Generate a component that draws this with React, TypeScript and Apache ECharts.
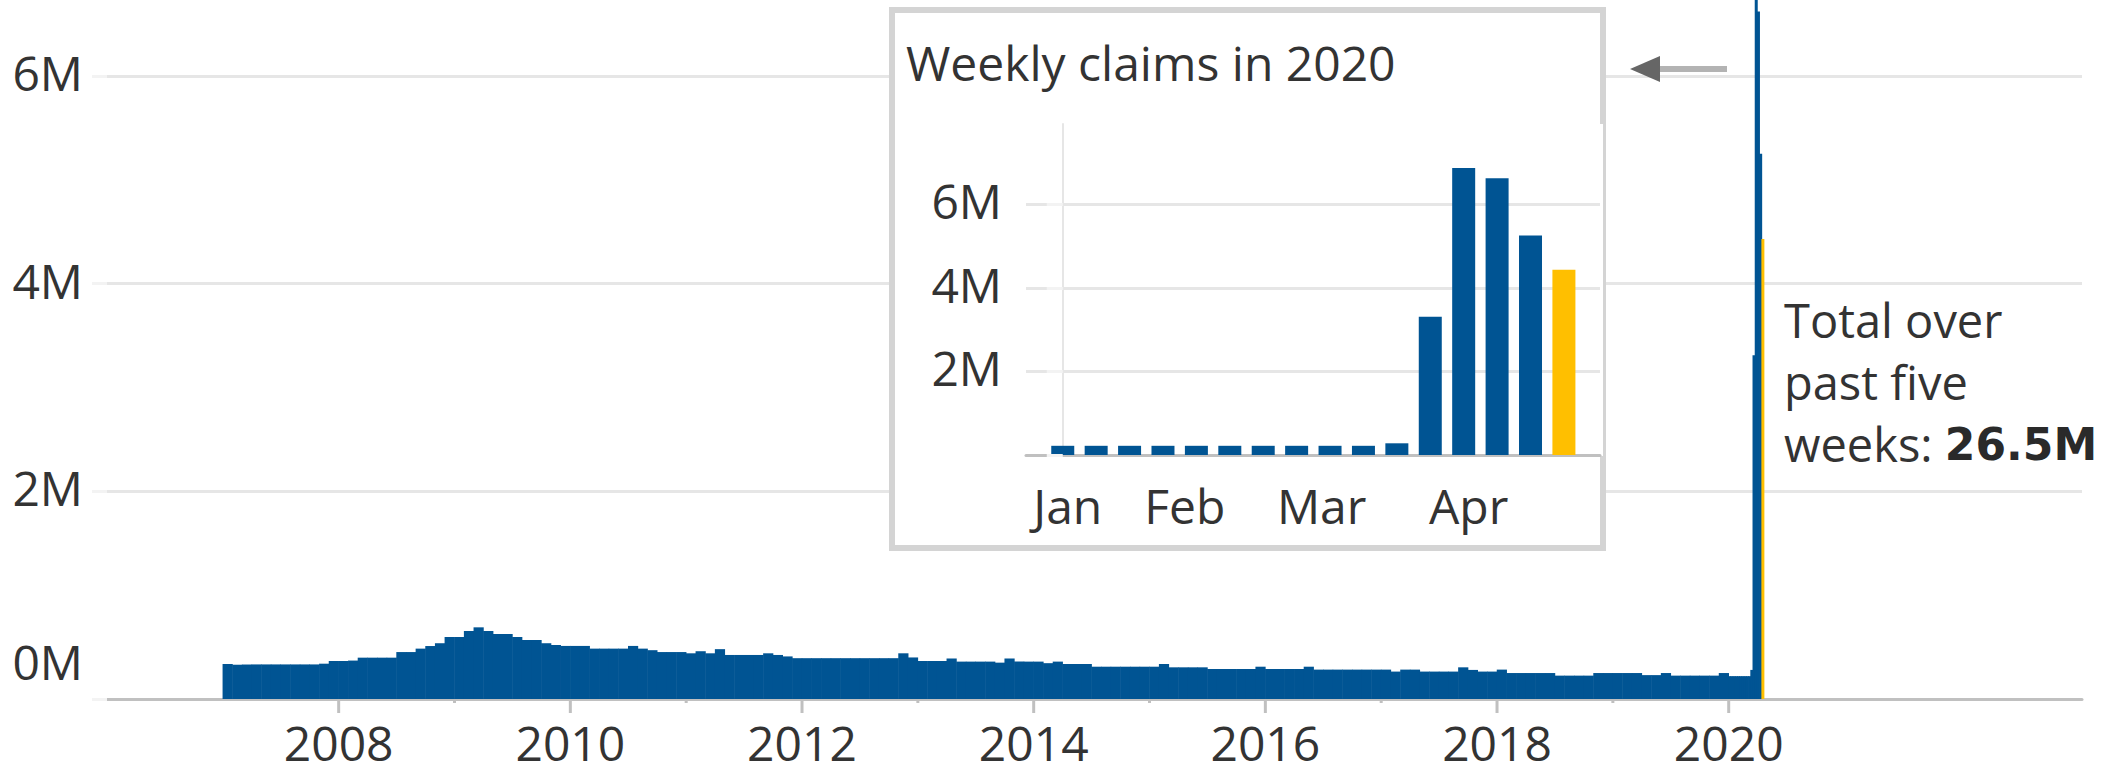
import React, { useEffect, useRef } from "react";
import * as echarts from "echarts";

const BLUE = "#005493";
const GOLD = "#ffbf00";
const TEXT = "#333333";
const FONT = "'Open Sans', sans-serif";
const BOLD_FONT = "'DejaVu Sans', sans-serif";

// Monthly average weekly initial claims (millions), Jan..Dec
const claimYears = [2007, 2008, 2009, 2010, 2011, 2012, 2013, 2014, 2015, 2016, 2017, 2018, 2019];
const m2007 = [0.337, 0.33, 0.332, 0.333, 0.333, 0.333, 0.333, 0.333, 0.333, 0.333, 0.34, 0.366];
const m2008 = [0.366, 0.37, 0.398, 0.398, 0.398, 0.398, 0.452, 0.452, 0.485, 0.51, 0.537, 0.597];
const m2009 = [0.597, 0.655, 0.69, 0.655, 0.626, 0.626, 0.597, 0.568, 0.568, 0.537, 0.52, 0.511];
const m2010 = [0.511, 0.511, 0.485, 0.485, 0.485, 0.485, 0.511, 0.485, 0.47, 0.452, 0.452, 0.452];
const m2011 = [0.44, 0.46, 0.44, 0.48, 0.424, 0.424, 0.424, 0.424, 0.44, 0.424, 0.41, 0.393];
const m2012 = [0.393, 0.393, 0.393, 0.393, 0.393, 0.393, 0.393, 0.393, 0.393, 0.393, 0.44, 0.4];
const m2013 = [0.366, 0.366, 0.366, 0.39, 0.36, 0.36, 0.36, 0.36, 0.35, 0.39, 0.36, 0.36];
const m2014 = [0.36, 0.345, 0.36, 0.337, 0.337, 0.337, 0.311, 0.311, 0.311, 0.311, 0.311, 0.311];
const m2015 = [0.311, 0.337, 0.305, 0.305, 0.305, 0.305, 0.289, 0.289, 0.289, 0.289, 0.289, 0.311];
const m2016 = [0.289, 0.289, 0.289, 0.289, 0.311, 0.283, 0.283, 0.283, 0.283, 0.283, 0.283, 0.283];
const m2017 = [0.283, 0.264, 0.283, 0.283, 0.264, 0.264, 0.264, 0.264, 0.305, 0.28, 0.264, 0.264];
const m2018 = [0.283, 0.25, 0.25, 0.25, 0.25, 0.25, 0.225, 0.225, 0.225, 0.225, 0.25, 0.25];
const m2019 = [0.25, 0.25, 0.25, 0.23, 0.23, 0.25, 0.225, 0.225, 0.225, 0.225, 0.225, 0.25];
const monthlyByYear = [m2007, m2008, m2009, m2010, m2011, m2012, m2013, m2014, m2015, m2016, m2017, m2018, m2019];

// Weekly claims in 2020 (millions), week ending
const weeks2020 = [
  "2020-01-04", "2020-01-11", "2020-01-18", "2020-01-25", "2020-02-01", "2020-02-08",
  "2020-02-15", "2020-02-22", "2020-02-29", "2020-03-07", "2020-03-14", "2020-03-21",
  "2020-03-28", "2020-04-04", "2020-04-11", "2020-04-18",
];
const claims2020 = [0.22, 0.22, 0.22, 0.22, 0.22, 0.22, 0.22, 0.22, 0.22, 0.22, 0.28, 3.31, 6.87, 6.62, 5.25, 4.43];

// Axis ticks / labels
const yearTicks = [2008, 2009, 2010, 2011, 2012, 2013, 2014, 2015, 2016, 2017, 2018, 2019, 2020];
const monthLabels = ["Jan", "Feb", "Mar", "Apr"];
const monthLabelWeekPos = [0.15, 3.65, 7.75, 12.15];

function yearFraction(dateStr: string): number {
  const d = new Date(dateStr + "T00:00:00Z");
  const y = d.getUTCFullYear();
  const start = Date.UTC(y, 0, 1);
  const end = Date.UTC(y + 1, 0, 1);
  return y + (d.getTime() - start) / (end - start);
}

export default function App() {
  const ref = useRef<HTMLDivElement>(null);

  useEffect(() => {
    if (!ref.current) return;
    const chart = echarts.init(ref.current, undefined, { renderer: "svg" });

    const monthlyPoints: number[][] = [];
    claimYears.forEach((yr, yi) => {
      monthlyByYear[yi].forEach((v, m) => {
        monthlyPoints.push([yr + (m + 0.5) / 12, v * 1e6]);
      });
    });

    const last = claims2020.length - 1;
    const weeklyMain = weeks2020.map((w, i) => ({
      value: [yearFraction(w), claims2020[i] * 1e6],
      itemStyle: { color: i === last ? GOLD : BLUE },
    }));
    const insetBars = claims2020.map((v, i) => ({
      value: [i, v * 1e6],
      itemStyle: { color: i === last ? GOLD : BLUE },
    }));

    const yRich = {
      z: { fontSize: 48, fontFamily: FONT, color: TEXT, padding: [0, 0, 76, 0] },
      n: { fontSize: 48, fontFamily: FONT, color: TEXT, padding: [0, 0, 7, 0] },
    };
    const yFormatter = (v: number) => {
      if (Math.abs(v % 2e6) > 1) return "";
      const t = `${Math.round(v / 1e6)}M`;
      return v === 0 ? `{z|${t}}` : `{n|${t}}`;
    };
    const insetFormatter = (v: number) => {
      if (v === 0 || Math.abs(v % 2e6) > 1) return "";
      return `{n|${Math.round(v / 1e6)}M}`;
    };

    const option: any = {
      animation: false,
      backgroundColor: "#ffffff",
      textStyle: { fontFamily: FONT },
      grid: [
        { left: 107, right: 33, top: 0, bottom: 74, show: false },
        { left: 1026, top: 124, width: 574, height: 331, show: false, z: 10 },
      ],
      xAxis: [
        {
          type: "value",
          gridIndex: 0,
          min: 2006,
          max: 2023.05,
          interval: 1,
          axisLine: { show: true, onZero: false, lineStyle: { color: "#c0c0c0", width: 3 } },
          axisTick: { show: false },
          splitLine: { show: false },
          axisLabel: {
            margin: 19,
            fontSize: 48,
            lineHeight: 48,
            fontFamily: FONT,
            color: TEXT,
            showMaxLabel: false,
            formatter: (v: number) =>
              v >= 2008 && v <= 2020 && Math.round(v) === v && v % 2 === 0 ? String(v) : "",
          },
        },
        { type: "value", gridIndex: 0, min: 2006, max: 2023.05, show: false },
        {
          type: "value",
          gridIndex: 1,
          min: -1.1,
          max: 16.08,
          z: 10,
          axisLine: { show: true, onZero: false, lineStyle: { color: "#c0c0c0", width: 3 } },
          axisTick: { show: false },
          axisLabel: { show: false },
          splitLine: { show: false },
        },
      ],
      yAxis: [
        {
          type: "value",
          gridIndex: 0,
          min: 0,
          max: 6.73e6,
          interval: 2e6,
          axisLine: { show: false },
          axisTick: { show: true, length: 15, lineStyle: { color: "#f3f3f3", width: 3 } },
          splitLine: { show: true, showMaxLine: false, lineStyle: { color: "#e6e6e6", width: 3 } },
          axisLabel: { margin: 24, showMaxLabel: false, formatter: yFormatter, rich: yRich },
        },
        {
          type: "value",
          gridIndex: 1,
          min: 0,
          max: 7.92e6,
          interval: 2e6,
          z: 10,
          axisLine: { show: true, lineStyle: { color: "#e6e6e6", width: 2 } },
          axisTick: { show: true, length: 16, lineStyle: { color: "#f3f3f3", width: 3 } },
          splitLine: { show: true, showMaxLine: false, lineStyle: { color: "#e6e6e6", width: 3 } },
          axisLabel: { margin: 24, showMaxLabel: false, formatter: insetFormatter, rich: yRich },
        },
      ],
      series: [
        {
          type: "bar",
          xAxisIndex: 0,
          yAxisIndex: 0,
          barWidth: 10.2,
          itemStyle: { color: BLUE },
          data: monthlyPoints,
          z: 2,
        },
        {
          type: "bar",
          xAxisIndex: 1,
          yAxisIndex: 0,
          barWidth: 3,
          data: weeklyMain,
          z: 2,
        },
        {
          type: "custom",
          xAxisIndex: 0,
          yAxisIndex: 0,
          silent: true,
          z: 3,
          data: yearTicks.map((y) => [y, 0]),
          renderItem: (params: any, api: any) => {
            const yr = api.value(0);
            const p = api.coord([yr, 0]);
            const len = yr % 2 === 0 ? 14 : 4;
            return {
              type: "line",
              shape: { x1: p[0], y1: p[1], x2: p[0], y2: p[1] + len },
              style: { stroke: "#c0c0c0", lineWidth: 3 },
            };
          },
        },
        {
          type: "bar",
          xAxisIndex: 2,
          yAxisIndex: 1,
          barWidth: 23,
          data: insetBars,
          z: 10,
        },
        {
          type: "custom",
          xAxisIndex: 2,
          yAxisIndex: 1,
          silent: true,
          z: 10,
          data: monthLabelWeekPos.map((p) => [p, 0]),
          renderItem: (params: any, api: any) => {
            const p = api.coord([api.value(0), 0]);
            return {
              type: "text",
              x: p[0],
              y: p[1] + 50,
              style: {
                text: monthLabels[params.dataIndex],
                fill: TEXT,
                fontSize: 48,
                fontFamily: FONT,
                align: "center",
                verticalAlign: "middle",
              },
            };
          },
        },
      ],
      graphic: {
        elements: [
          {
            type: "rect",
            z: 3,
            silent: true,
            shape: { x: 892, y: 10, width: 711, height: 538 },
            style: { fill: "#ffffff", stroke: "#d4d4d4", lineWidth: 6 },
          },
          {
            type: "rect",
            z: 4,
            silent: true,
            shape: { x: 1010, y: 124, width: 593, height: 332 },
            style: { fill: "#ffffff" },
          },
          {
            type: "text",
            z: 11,
            x: 906,
            y: 62,
            style: {
              text: "Weekly claims in 2020",
              fill: TEXT,
              fontSize: 48,
              fontFamily: FONT,
              verticalAlign: "middle",
            },
          },
          {
            type: "rect",
            z: 3,
            silent: true,
            shape: { x: 1659, y: 66, width: 68, height: 6 },
            style: { fill: "#b3b3b3" },
          },
          {
            type: "polygon",
            z: 3,
            silent: true,
            shape: { points: [[1630, 69], [1660, 56], [1660, 82]] },
            style: { fill: "#666666" },
          },
          {
            type: "text",
            z: 11,
            x: 1784,
            y: 289,
            style: {
              text: "Total over\npast five\nweeks: {b|26.5M}",
              fill: TEXT,
              fontSize: 47,
              fontFamily: FONT,
              lineHeight: 62,
              verticalAlign: "top",
              rich: {
                b: { fontSize: 44, fontFamily: BOLD_FONT, fontWeight: "bold", fill: "#2a2a2a", lineHeight: 62 },
              },
            },
          },
        ],
      },
    };

    chart.setOption(option);
    return () => chart.dispose();
  }, []);

  return (
    <div
      ref={ref}
      style={{ position: "fixed", left: 0, top: 0, width: 2115, height: 773, background: "#ffffff" }}
    />
  );
}
